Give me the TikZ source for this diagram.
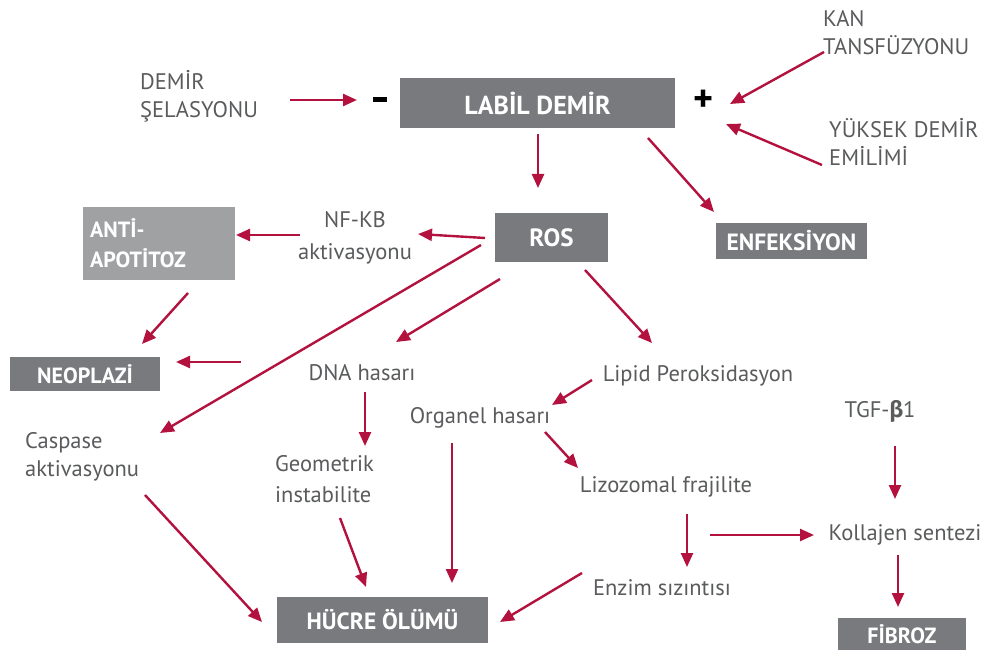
\documentclass[tikz,border=0pt]{standalone}
\usepackage{fontspec}
\setmainfont{PT Sans}
\newfontfamily\grk{Fira Sans}
\usetikzlibrary{arrows.meta}
\definecolor{arrred}{HTML}{B3123F}
\definecolor{boxgray}{HTML}{797A7D}
\definecolor{boxlight}{HTML}{A0A1A3}
\definecolor{txtgray}{HTML}{5A5B5D}
\begin{document}
\begin{tikzpicture}[x=1pt,y=-1pt,
  arr/.style={draw=arrred, line width=2.4pt, -{Triangle[length=14pt,width=12pt]}},
  box/.style={fill=boxgray, text=white, font=\bfseries\fontsize{22}{30}\selectfont, inner sep=0pt},
  lbl/.style={text=txtgray, font=\fontsize{22.5}{28}\selectfont, inner sep=0pt}]
\useasboundingbox[fill=white] (0,0) rectangle (993,655);

% boxes
\node[box, font=\bfseries\fontsize{26}{30}\selectfont, minimum width=275pt, minimum height=50pt] (labil) at (537.5,103) {LABİL DEMİR};
\node[box, font=\bfseries\fontsize{25}{30}\selectfont, minimum width=113pt, minimum height=49pt] (ros) at (551.5,237.5) {ROS};
\node[box, font=\bfseries\fontsize{23.5}{30}\selectfont, minimum width=151pt, minimum height=36pt] (enf) at (791.5,241) {ENFEKSİYON};
\node[box, fill=boxlight, minimum width=152pt, minimum height=73pt, text width=138pt, align=left] (anti) at (159,243.5) {ANTİ-\\APOTİTOZ};
\node[box, minimum width=150pt, minimum height=34pt] (neo) at (85,374) {NEOPLAZİ};
\node[box, font=\bfseries\fontsize{23.5}{30}\selectfont, minimum width=211pt, minimum height=46pt] (hucre) at (382.5,620) {HÜCRE ÖLÜMÜ};
\node[box, minimum width=128pt, minimum height=32pt] (fib) at (902,634) {FİBROZ};

% signs
\node[fill=black, minimum width=14pt, minimum height=5pt, inner sep=0pt] (minus) at (380,100) {};
\node[text=black, font=\bfseries\fontsize{38}{38}\selectfont, inner sep=0pt] (plus) at (704,101) {+};

% labels
\node[lbl, anchor=west, align=left] (sel) at (140,96) {DEMİR\\ŞELASYONU};
\node[lbl, anchor=west, align=left] (kan) at (823,33) {KAN\\TANSFÜZYONU};
\node[lbl, anchor=west, align=left] (yuk) at (829,142) {YÜKSEK DEMİR\\EMİLİMİ};
\node[lbl, align=center, font=\fontsize{22.5}{32}\selectfont] (nfkb) at (355,238) {NF-KB\\aktivasyonu};
\node[lbl] (dna) at (362,373) {DNA hasarı};
\node[lbl] (org) at (480,418) {Organel hasarı};
\node[lbl] (lip) at (698,376) {Lipid Peroksidasyon};
\node[lbl] (tgf) at (880,411) {TGF-{\grk\bfseries β}1};
\node[lbl, anchor=west, align=left] (cas) at (25,457) {Caspase\\aktivasyonu};
\node[lbl, anchor=west, align=left, font=\fontsize{22.5}{31}\selectfont] (geo) at (275,479) {Geometrik\\instabilite};
\node[lbl] (liz) at (666,487) {Lizozomal frajilite};
\node[lbl] (kol) at (905,535) {Kollajen sentezi};
\node[lbl] (enz) at (662,588) {Enzim sızıntısı};

% connector end points
\coordinate (selE) at (290,100);   \coordinate (minusW) at (357,100);
\coordinate (kanS) at (824,52);    \coordinate (plusNE) at (730,104);
\coordinate (yukW) at (822,165);   \coordinate (plusE) at (726,124);
\coordinate (labilS) at (538,134); \coordinate (rosN) at (538,188);
\coordinate (labilSE) at (648,138);\coordinate (enfNW) at (714,212);
\coordinate (rosW) at (485,238);   \coordinate (nfkbE) at (418,234);
\coordinate (rosW2) at (481,245);  \coordinate (casNE) at (160,433);
\coordinate (nfkbW) at (300,235);  \coordinate (antiE) at (236,235);
\coordinate (antiS) at (188,293);  \coordinate (neoN) at (142,344);
\coordinate (dnaW) at (241,362);   \coordinate (neoE) at (176,362);
\coordinate (rosSW) at (500,279);  \coordinate (dnaNE) at (396,342);
\coordinate (rosSE) at (585,270);  \coordinate (lipNW) at (652,343);
\coordinate (dnaS) at (365,392);   \coordinate (geoN) at (365,446);
\coordinate (lipW) at (592,380);   \coordinate (orgNE) at (552,405);
\coordinate (orgSE) at (545,432);  \coordinate (lizNW) at (578,468);
\coordinate (orgS) at (452,443);   \coordinate (hucreNE) at (452,583);
\coordinate (geoS) at (340,518);   \coordinate (hucreN) at (366,587);
\coordinate (casS) at (145,495);   \coordinate (hucreW) at (262,622);
\coordinate (lizS) at (687,514);   \coordinate (enzN) at (687,567);
\coordinate (lizSE) at (710,535);  \coordinate (kolW) at (814,535);
\coordinate (tgfS) at (895,446);   \coordinate (kolN) at (895,499);
\coordinate (kolS) at (898,555);   \coordinate (fibN) at (898,607);
\coordinate (enzW) at (582,573);   \coordinate (hucreE) at (500,622);

% connectors
\draw[arr] (selE) -- (minusW);
\draw[arr] (kanS) -- (plusNE);
\draw[arr] (yukW) -- (plusE);
\draw[arr] (labilS) -- (rosN);
\draw[arr] (labilSE) -- (enfNW);
\draw[arr] (rosW) -- (nfkbE);
\draw[arr] (rosW2) -- (casNE);
\draw[arr] (nfkbW) -- (antiE);
\draw[arr] (antiS) -- (neoN);
\draw[arr] (dnaW) -- (neoE);
\draw[arr] (rosSW) -- (dnaNE);
\draw[arr] (rosSE) -- (lipNW);
\draw[arr] (dnaS) -- (geoN);
\draw[arr] (lipW) -- (orgNE);
\draw[arr] (orgSE) -- (lizNW);
\draw[arr] (orgS) -- (hucreNE);
\draw[arr] (geoS) -- (hucreN);
\draw[arr] (casS) -- (hucreW);
\draw[arr] (lizS) -- (enzN);
\draw[arr] (lizSE) -- (kolW);
\draw[arr] (tgfS) -- (kolN);
\draw[arr] (kolS) -- (fibN);
\draw[arr] (enzW) -- (hucreE);
\end{tikzpicture}
\end{document}
